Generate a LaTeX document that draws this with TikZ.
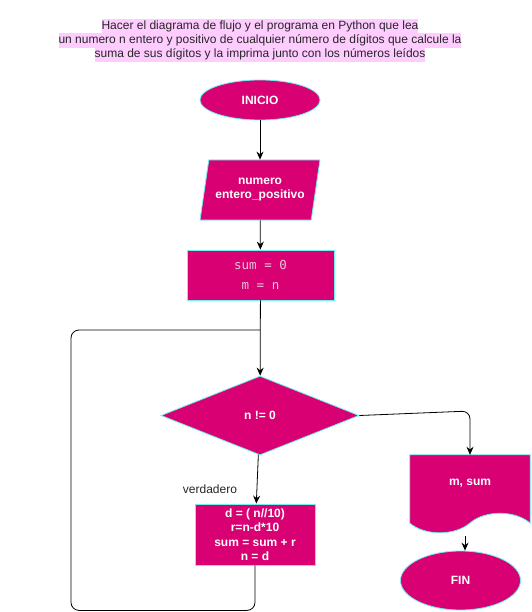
\documentclass[tikz,border=0pt]{standalone}
\usepackage{fontspec}
\setmainfont{Liberation Sans}
\newfontfamily\codefont{DejaVu Sans Mono}
\usepackage{tikz}
\usetikzlibrary{shapes.geometric}
\usetikzlibrary{arrows.meta}
\definecolor{flujo}{HTML}{D80073}
\definecolor{borde}{HTML}{6EF0F0}
\definecolor{resalte}{HTML}{FFCCFF}
\definecolor{codigo}{HTML}{E8C6D8}
\tikzset{
  caja/.style={fill=flujo,draw=borde,line width=0.8pt,text=white,font=\fontsize{12}{14}\selectfont\bfseries,align=center,inner sep=0pt},
  titulo/.style={fill=resalte,inner xsep=0pt,inner ysep=1.5pt,text height=8.6pt,text depth=2.5pt,font=\fontsize{12}{14}\selectfont,text=black!85},
  flecha/.style={-{Stealth[length=8pt,width=7pt]},line width=0.8pt},
}
\begin{document}
\begin{tikzpicture}[x=1pt,y=-1pt]
		\useasboundingbox (0,0) rectangle (531,612);
		\node[titulo](T1) at (260,26.4) {Hacer el diagrama de flujo y el programa en Python que lea};
		\node[titulo](T2) at (260,40.5) {un numero n entero y positivo de cualquier número de dígitos que calcule la};
		\node[titulo](T3) at (260,54.6) {suma de sus dígitos y la imprima junto con los números leídos};
		
		\node[caja,ellipse,minimum width=120pt,minimum height=40pt](INI) at (260,100) {INICIO};
		\node[caja,trapezium,trapezium left angle=71.6,trapezium right angle=108.4,trapezium stretches=true,minimum width=120pt,minimum height=60pt](LEE) at (260,190) {numero\\entero\_positivo};
		\node[caja,rectangle,minimum width=147pt,minimum height=50pt,text=codigo,font=\fontsize{12.5}{19.5}\selectfont\codefont](ASI) at (260.5,275) {sum = 0\\m = n};
		\node[caja,diamond,aspect=2.5,minimum width=198pt,minimum height=79pt](CON) at (260,415.5) {n != 0};
		\node[caja,rectangle,minimum width=120pt,minimum height=61pt,font=\fontsize{12}{14.5}\selectfont\bfseries](CUE) at (255,534.5) {d = ( n//10)\\r=n-d*10\\sum = sum + r\\n = d};
		\node[minimum width=120pt,minimum height=68pt,inner sep=0pt](ESC) at (470,489) {};
		\filldraw[fill=flujo,draw=borde,line width=0.8pt] (ESC.north west) -- (ESC.north east) -- (ESC.south east)
			.. controls (515,510) and (485,510) .. (470,523)
			.. controls (455,536) and (425,536) .. (ESC.south west) -- cycle;
		\node[text=white,font=\fontsize{12}{14}\selectfont\bfseries](ESCT) at (470,483) {m, sum};
		\node[caja,ellipse,minimum width=120pt,minimum height=59pt](FIN) at (460.5,580.5) {FIN};
		\node[font=\fontsize{12}{14}\selectfont,text=black!85](VER) at (210,489) {verdadero};
		\coordinate (UNE) at (260,330);
		\coordinate (SAL) at (465,536);
		
		\draw[flecha] (INI)--(LEE);
		\draw[flecha] (LEE)--(ASI);
		\draw[flecha] (ASI)--(CON);
		\draw[flecha] (CON)--(CUE);
		\draw[flecha,rounded corners=8pt] (CON.east) -- (470,411) -- (ESC.north);
		\draw[line width=0.8pt,rounded corners=8pt] (CUE.south) -- ++(0,45) -| (71,330) -- (UNE);
		\draw[flecha] (SAL) -- (SAL |- FIN.north);
	\end{tikzpicture}
\end{document}
